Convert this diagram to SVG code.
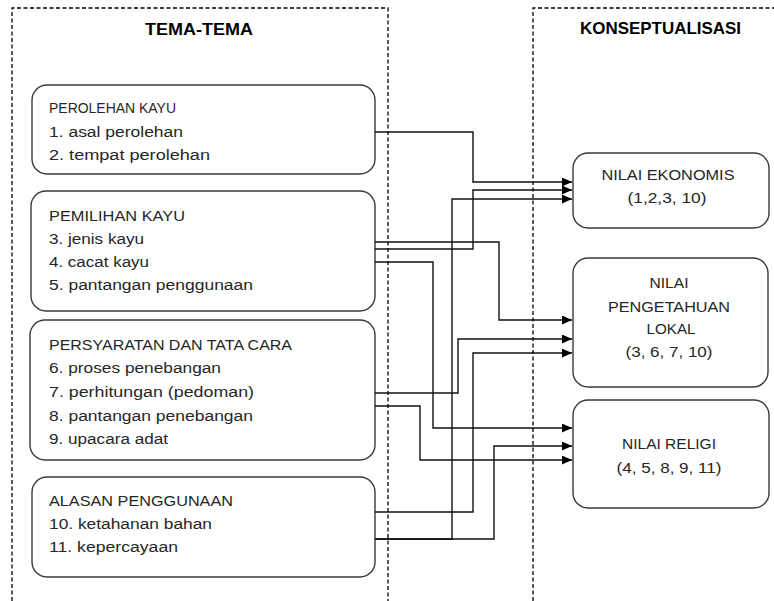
<svg xmlns="http://www.w3.org/2000/svg" width="774" height="601" viewBox="0 0 774 601">
<defs>
<marker id="arr" markerWidth="11" markerHeight="9" refX="10" refY="4.5" orient="auto" markerUnits="userSpaceOnUse">
<path d="M0,0 L10,4.5 L0,9 Z" fill="#000"/>
</marker>
<style>
.frame{fill:none;stroke:#000;stroke-width:1.3;stroke-dasharray:4 2.5}
.box{fill:#fff;stroke:#3a3a3a;stroke-width:1.4}
.t{font-family:"Liberation Sans",Arial,sans-serif;font-size:15.5px;fill:#262626}
.h{font-family:"Liberation Sans",Arial,sans-serif;font-size:17px;font-weight:bold;fill:#000}
.c{text-anchor:middle}
.conn polyline{fill:none;stroke:#111;stroke-width:1.4;marker-end:url(#arr)}
</style>
</defs>
<rect width="774" height="601" fill="#fff"/>
<g id="frames">
<path class="frame" d="M12,601 V8 H388 V601"/>
<path class="frame" d="M533,601 V8 H774"/>
<text class="h c" x="199" y="35" textLength="108" lengthAdjust="spacingAndGlyphs">TEMA-TEMA</text>
<text class="h c" x="660.5" y="34" textLength="161" lengthAdjust="spacingAndGlyphs">KONSEPTUALISASI</text>
</g>
<g id="perolehan">
<rect class="box" x="32" y="85" width="343" height="89" rx="15"/>
<text class="t" x="49" y="113" textLength="127" lengthAdjust="spacingAndGlyphs">PEROLEHAN KAYU</text>
<text class="t" x="49" y="137" textLength="134" lengthAdjust="spacingAndGlyphs">1. asal perolehan</text>
<text class="t" x="49" y="160" textLength="161" lengthAdjust="spacingAndGlyphs">2. tempat perolehan</text>
</g>
<g id="pemilihan">
<rect class="box" x="31" y="191" width="344" height="120" rx="15"/>
<text class="t" x="49" y="221" textLength="136" lengthAdjust="spacingAndGlyphs">PEMILIHAN KAYU</text>
<text class="t" x="49" y="244" textLength="95" lengthAdjust="spacingAndGlyphs">3. jenis kayu</text>
<text class="t" x="49" y="267" textLength="100" lengthAdjust="spacingAndGlyphs">4. cacat kayu</text>
<text class="t" x="49" y="290" textLength="204" lengthAdjust="spacingAndGlyphs">5. pantangan penggunaan</text>
</g>
<g id="persyaratan">
<rect class="box" x="30" y="320" width="345" height="140" rx="15"/>
<text class="t" x="49" y="350" textLength="243" lengthAdjust="spacingAndGlyphs">PERSYARATAN DAN TATA CARA</text>
<text class="t" x="49" y="373" textLength="172" lengthAdjust="spacingAndGlyphs">6. proses penebangan</text>
<text class="t" x="49" y="397" textLength="205" lengthAdjust="spacingAndGlyphs">7. perhitungan (pedoman)</text>
<text class="t" x="49" y="421" textLength="204" lengthAdjust="spacingAndGlyphs">8. pantangan penebangan</text>
<text class="t" x="49" y="444" textLength="119" lengthAdjust="spacingAndGlyphs">9. upacara adat</text>
</g>
<g id="alasan">
<rect class="box" x="32" y="477" width="343" height="100" rx="15"/>
<text class="t" x="49" y="506" textLength="184" lengthAdjust="spacingAndGlyphs">ALASAN PENGGUNAAN</text>
<text class="t" x="49" y="529" textLength="163" lengthAdjust="spacingAndGlyphs">10. ketahanan bahan</text>
<text class="t" x="49" y="552" textLength="129" lengthAdjust="spacingAndGlyphs">11. kepercayaan</text>
</g>
<g id="ekonomis">
<rect class="box" x="573" y="153" width="196" height="75" rx="15"/>
<text class="t c" x="668" y="180" textLength="133" lengthAdjust="spacingAndGlyphs">NILAI EKONOMIS</text>
<text class="t c" x="667" y="203" textLength="79" lengthAdjust="spacingAndGlyphs">(1,2,3, 10)</text>
</g>
<g id="pengetahuan">
<rect class="box" x="573" y="258" width="195" height="129" rx="15"/>
<text class="t c" x="669" y="288" textLength="39" lengthAdjust="spacingAndGlyphs">NILAI</text>
<text class="t c" x="669" y="312" textLength="122" lengthAdjust="spacingAndGlyphs">PENGETAHUAN</text>
<text class="t c" x="671" y="334" textLength="49" lengthAdjust="spacingAndGlyphs">LOKAL</text>
<text class="t c" x="669" y="357" textLength="87" lengthAdjust="spacingAndGlyphs">(3, 6, 7, 10)</text>
</g>
<g id="religi">
<rect class="box" x="573" y="400" width="196" height="108" rx="15"/>
<text class="t c" x="669" y="449" textLength="94" lengthAdjust="spacingAndGlyphs">NILAI RELIGI</text>
<text class="t c" x="669" y="473" textLength="105" lengthAdjust="spacingAndGlyphs">(4, 5, 8, 9, 11)</text>
</g>
<g id="connectors" class="conn">
<polyline points="375,132 473,132 473,182 572,182"/>
<polyline points="375,249 473,249 473,190 572,190"/>
<polyline points="375,539 452,539 452,199 572,199"/>
<polyline points="375,242 499,242 499,320 572,320"/>
<polyline points="375,262 433,262 433,428 572,428"/>
<polyline points="375,393 458,393 458,339 572,339"/>
<polyline points="375,406 420,406 420,460 572,460"/>
<polyline points="375,512 473,512 473,353 572,353"/>
<polyline points="375,539 494,539 494,446 572,446"/>
</g>
</svg>
